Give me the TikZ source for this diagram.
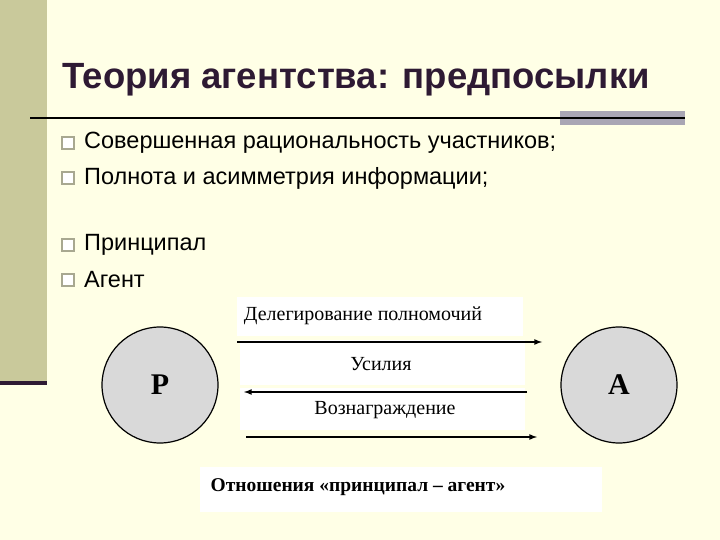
\documentclass[tikz,border=0pt]{standalone}
\usepackage{fontspec}
\setmainfont{Liberation Serif}
\newfontfamily\arial{Liberation Sans}
\definecolor{bg}{HTML}{FFFFE6}
\definecolor{olive}{HTML}{C9C99B}
\definecolor{plum}{HTML}{2E1A33}
\definecolor{circ}{HTML}{D9D9D9}
\definecolor{bul}{HTML}{A8A890}
\definecolor{grayseg}{HTML}{A9A6B4}
\tikzset{x=1pt,y=-1pt,
 lab/.style={font=\fontsize{20}{24}\selectfont,anchor=center},
 bultext/.style={font=\arial\fontsize{23.5}{28}\selectfont,anchor=west,inner sep=0},
 bulsq/.style={draw=bul,fill=white,line width=2pt,minimum size=12pt,inner sep=0},
 party/.style={circle,draw=black,line width=1.2pt,fill=circ,minimum size=116pt,font=\bfseries\fontsize{30}{34}\selectfont},
 arr/.style={-latex,line width=1.6pt}}
\begin{document}
\begin{tikzpicture}
\fill[bg] (0,0) rectangle (720,540);
\useasboundingbox (0,0) rectangle (720,540);
\fill[olive] (0,0) rectangle (47,383);
\fill[plum] (0,381) rectangle (47,385);
\node[font=\arial\bfseries\fontsize{36.5}{40}\selectfont,text=plum,anchor=west,inner sep=0] (title) at (62,80) {Теория агентства: предпосылки};
\fill[grayseg] (560,111) rectangle (685,125);
\draw[black,line width=1.6pt] (30,118) -- (685,118);
\foreach \y/\t/\n in {143/Совершенная рациональность участников;/b1,178/Полнота и асимметрия информации;/b2,245/Принципал/b3,280/Агент/b4}{
 \node[bulsq] (\n s) at (68,\y) {};
 \node[bultext] (\n) at (84,\y) {\t};
}
\fill[white] (237,297) rectangle (523,336);
\fill[white] (240,340) rectangle (525,385);
\fill[white] (240,388) rectangle (525,430);
\fill[white] (200,467) rectangle (602,512);
\node[lab] (l1) at (363,316) {Делегирование полномочий};
\node[lab] (l2) at (381,364) {Усилия};
\node[lab] (l3) at (385,410) {Вознаграждение};
\node[lab,font=\bfseries\fontsize{19.5}{22}\selectfont] (l4) at (358,487) {Отношения «принципал – агент»};
\node[party] (P) at (160,385) {P};
\node[party] (A) at (619,385) {A};
\coordinate (a1s) at (237,342); \coordinate (a1e) at (542,342);
\coordinate (a2s) at (527,392); \coordinate (a2e) at (244,392);
\coordinate (a3s) at (246,437); \coordinate (a3e) at (537,437);
\draw[arr] (a1s) -- (a1e);
\draw[arr] (a2s) -- (a2e);
\draw[arr] (a3s) -- (a3e);
\end{tikzpicture}
\end{document}
